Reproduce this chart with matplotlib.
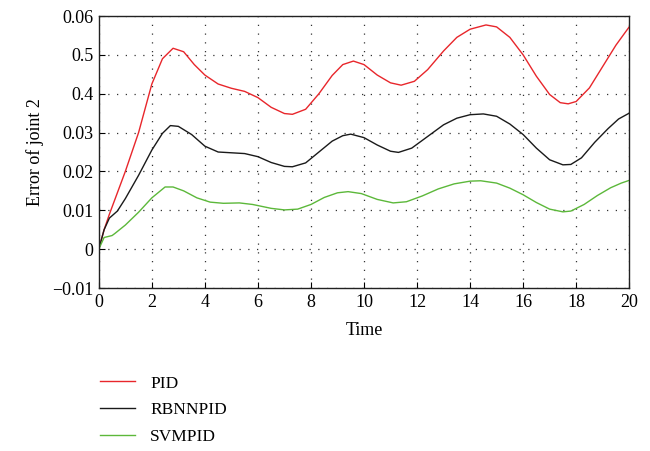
import matplotlib
matplotlib.use("Agg")
import matplotlib.pyplot as plt

plt.rcParams['font.family'] = ['Liberation Serif', 'DejaVu Serif']

t_pid = [0, 0.2, 0.4, 0.7, 1.0, 1.5, 2.0, 2.4, 2.8, 3.2, 3.6, 4.0, 4.5, 5.0, 5.5, 6.0, 6.5, 7.0, 7.3,
         7.8, 8.3, 8.8, 9.2, 9.6, 10.0, 10.5, 11.0, 11.4, 11.9, 12.4, 13.0, 13.5, 14.0, 14.6, 15.0,
         15.5, 16.0, 16.5, 17.0, 17.4, 17.7, 18.0, 18.5, 19.0, 19.5, 20.0]
pid = [0, 0.005, 0.009, 0.0145, 0.020, 0.030, 0.0425, 0.049, 0.0517, 0.0508, 0.0475, 0.0448, 0.0425,
       0.0414, 0.0406, 0.0390, 0.0365, 0.0349, 0.0347, 0.036, 0.040, 0.0447, 0.0475, 0.0484, 0.0475,
       0.0448, 0.0428, 0.0422, 0.0432, 0.0462, 0.0510, 0.0545, 0.0566, 0.0577, 0.0572, 0.0545, 0.0500,
       0.0445, 0.0398, 0.0377, 0.0374, 0.0380, 0.0415, 0.0470, 0.0525, 0.0572]

t_rb = [0, 0.2, 0.4, 0.7, 1.0, 1.5, 2.0, 2.4, 2.7, 3.0, 3.5, 4.0, 4.5, 5.0, 5.5, 6.0, 6.5, 7.0, 7.3,
        7.8, 8.3, 8.8, 9.2, 9.5, 10.0, 10.5, 11.0, 11.3, 11.8, 12.4, 13.0, 13.5, 14.0, 14.5, 15.0,
        15.5, 16.0, 16.5, 17.0, 17.5, 17.8, 18.2, 18.7, 19.2, 19.6, 20.0]
rbnnpid = [0, 0.005, 0.008, 0.0098, 0.013, 0.019, 0.0255, 0.0298, 0.0318, 0.0316, 0.0295, 0.0265,
           0.0250, 0.0248, 0.0246, 0.0238, 0.0223, 0.0213, 0.0212, 0.0222, 0.0250, 0.0278, 0.0292,
           0.0296, 0.0287, 0.0268, 0.0252, 0.0249, 0.0260, 0.0290, 0.0320, 0.0337, 0.0346, 0.0348,
           0.0342, 0.0322, 0.0295, 0.0260, 0.0230, 0.0217, 0.0218, 0.0235, 0.0275, 0.0310, 0.0335, 0.0350]

t_svm = [0, 0.2, 0.5, 0.6, 1.0, 1.5, 2.0, 2.5, 2.8, 3.2, 3.7, 4.2, 4.7, 5.3, 5.8, 6.5, 7.0, 7.5, 8.0,
         8.5, 9.0, 9.4, 9.9, 10.5, 11.1, 11.6, 12.2, 12.8, 13.4, 14.0, 14.4, 15.0, 15.5, 16.0, 16.5,
         17.0, 17.5, 17.8, 18.3, 18.8, 19.3, 19.7, 20.0]
svmpid = [0, 0.003, 0.0035, 0.0040, 0.0062, 0.0095, 0.0132, 0.0160, 0.0160, 0.0150, 0.0132, 0.0121,
          0.0118, 0.0119, 0.0115, 0.0105, 0.0101, 0.0103, 0.0115, 0.0133, 0.0145, 0.0148, 0.0143,
          0.0128, 0.0119, 0.0122, 0.0137, 0.0155, 0.0168, 0.0175, 0.0176, 0.0170, 0.0157, 0.0140,
          0.0120, 0.0103, 0.0096, 0.0098, 0.0115, 0.0138, 0.0158, 0.0170, 0.0177]

xticks = [0, 2, 4, 6, 8, 10, 12, 14, 16, 18, 20]
yticks = [-0.01, 0, 0.01, 0.02, 0.03, 0.04, 0.05, 0.06]
ytick_labels = ['\u22120.01', '0', '0.01', '0.02', '0.03', '0.4', '0.5', '0.06']

fig = plt.figure(figsize=(6.5, 4.51), dpi=100)
ax = fig.add_axes([0.152, 0.3614, 0.816, 0.6031])

ax.plot(t_pid, pid, color='#e8262b', lw=1.0, label='PID')
ax.plot(t_rb, rbnnpid, color='#1a1a1a', lw=1.0, label='RBNNPID')
ax.plot(t_svm, svmpid, color='#5cb83a', lw=1.0, label='SVMPID')

ax.set_xlim(0, 20)
ax.set_ylim(-0.01, 0.06)
ax.set_xticks(xticks)
ax.set_xticklabels([str(v) for v in xticks])
ax.set_yticks(yticks)
ax.set_yticklabels(ytick_labels)
ax.tick_params(direction='in', labelsize=13, length=4, width=0.8, pad=4)
ax.grid(True, color='#333333', linestyle=(0, (1, 6)), linewidth=0.9)
for s in ax.spines.values():
    s.set_linewidth(1.0)
    s.set_color('#222222')
ax.set_xlabel('Time', fontsize=13, labelpad=8)
ax.set_ylabel('Error of joint 2', fontsize=13, labelpad=6)

fig.legend(loc='upper left', bbox_to_anchor=(0.143, 0.183), frameon=False, fontsize=12.5,
           handlelength=2.0, handletextpad=0.9, labelspacing=0.6, borderaxespad=0)

fig.savefig('out.png', dpi=100)
